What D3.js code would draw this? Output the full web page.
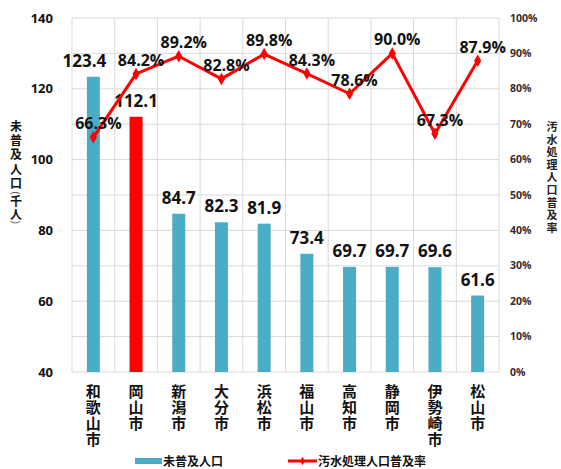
<!DOCTYPE html>
<html>
<head>
<meta charset="utf-8">
<script src="https://cdn.jsdelivr.net/npm/d3@7"></script>
<style>
  body { margin: 0; background: #fff; }
  text { font-family: "Open Sans", "Noto Sans CJK JP", sans-serif; }
  .cjk { font-family: "Noto Sans CJK JP", sans-serif; }
</style>
</head>
<body>
<svg id="chart" width="561" height="469"></svg>
<script>
// data
var cities = ['和歌山市', '岡山市', '新潟市', '大分市', '浜松市', '福山市', '高知市', '静岡市', '伊勢崎市', '松山市'];
var unserved = [123.4, 112.1, 84.7, 82.3, 81.9, 73.4, 69.7, 69.7, 69.6, 61.6];
var rate = [66.3, 84.2, 89.2, 82.8, 89.8, 84.3, 78.6, 90.0, 67.3, 87.9];
var leftTicks = [40, 60, 80, 100, 120, 140];
var rightTicks = [0, 10, 20, 30, 40, 50, 60, 70, 80, 90, 100];
var highlight = '岡山市';

var svg = d3.select('#chart');

// plot area (window.top is taken, so own names)
var plotLeft = 72, plotRight = 499, plotTop = 18, plotBottom = 372;

var x = d3.scaleBand().domain(cities).range([plotLeft, plotRight]).padding(0);
var yL = d3.scaleLinear().domain([40, 140]).range([plotBottom, plotTop]);
var yR = d3.scaleLinear().domain([0, 100]).range([plotBottom, plotTop]);

function cx(c) { return x(c) + x.bandwidth() / 2; }

// grid - horizontal every 10%
svg.append('g').selectAll('line')
  .data(rightTicks)
  .enter().append('line')
  .attr('x1', plotLeft).attr('x2', plotRight)
  .attr('y1', function(d) { return yR(d); })
  .attr('y2', function(d) { return yR(d); })
  .attr('stroke', '#d9d9d9').attr('stroke-width', 1);

// grid - vertical at band edges
var edges = cities.map(function(c) { return x(c); }).concat([plotRight]);
svg.append('g').selectAll('line')
  .data(edges)
  .enter().append('line')
  .attr('x1', function(d) { return d; }).attr('x2', function(d) { return d; })
  .attr('y1', plotTop).attr('y2', plotBottom)
  .attr('stroke', '#d9d9d9').attr('stroke-width', 1);

// left axis labels
svg.append('g').selectAll('text')
  .data(leftTicks)
  .enter().append('text')
  .attr('x', 53)
  .attr('y', function(d) { return yL(d); })
  .attr('dy', '0.35em')
  .attr('text-anchor', 'end')
  .attr('font-size', 13)
  .attr('font-weight', 'bold')
  .attr('fill', '#111')
  .text(function(d) { return d; });

// right axis labels
svg.append('g').selectAll('text')
  .data(rightTicks)
  .enter().append('text')
  .attr('x', 510)
  .attr('y', function(d) { return yR(d); })
  .attr('dy', '0.35em')
  .attr('font-size', 10.5)
  .attr('font-weight', 'bold')
  .attr('fill', '#3a2a2a')
  .text(function(d) { return d + '%'; });

// vertical text: one character under the other
function vtext(g, str, px, y0, step, size, color) {
  g.selectAll(null)
    .data(Array.from(str))
    .enter().append('text')
    .attr('class', 'cjk')
    .attr('x', px)
    .attr('y', function(d, i) { return y0 + i * step; })
    .attr('text-anchor', 'middle')
    .attr('font-size', size)
    .attr('font-weight', 'bold')
    .attr('fill', color)
    .text(function(d) { return d; });
}

// turned bracket for the vertical title
function vparen(g, ch, px, py) {
  g.append('g')
    .attr('transform', 'translate(' + px + ',' + py + ') rotate(90)')
    .append('text')
    .attr('x', 0).attr('y', 0)
    .attr('dy', '0.32em')
    .attr('text-anchor', 'middle')
    .attr('font-size', 11)
    .attr('fill', '#555')
    .text(ch);
}

// axis titles
var lt = svg.append('g');
vtext(lt, '未普及人口', 16, 131, 14.2, 12, '#111');
vparen(lt, '(', 16, 193);
vtext(lt, '千人', 16, 206, 13, 12, '#111');
vparen(lt, ')', 16, 222);

var rt = svg.append('g');
vtext(rt, '汚水処理人口普及率', 552, 131, 12.6, 11, '#222');

// bars
svg.append('g').selectAll('rect')
  .data(cities)
  .enter().append('rect')
  .attr('x', function(d) { return cx(d) - 6.5; })
  .attr('width', 13)
  .attr('y', function(d, i) { return yL(unserved[i]); })
  .attr('height', function(d, i) { return yL(40) - yL(unserved[i]); })
  .attr('fill', function(d) { return d === highlight ? '#ff0000' : '#4bacc6'; });

// bar value labels (first one sits a bit to the left in the original)
var labelNudge = { '和歌山市': -9 };
svg.append('g').selectAll('text')
  .data(cities)
  .enter().append('text')
  .attr('x', function(d) { return cx(d) + (labelNudge[d] || 0); })
  .attr('y', function(d, i) { return yL(unserved[i]) - 10; })
  .attr('text-anchor', 'middle')
  .attr('font-size', 17)
  .attr('font-weight', 'bold')
  .attr('fill', '#111')
  .text(function(d, i) { return unserved[i].toFixed(1); });

// rate line
var line = d3.line()
  .x(function(d, i) { return cx(cities[i]); })
  .y(function(d) { return yR(d); });

svg.append('path')
  .datum(rate)
  .attr('d', line)
  .attr('fill', 'none')
  .attr('stroke', '#ff0000')
  .attr('stroke-width', 3)
  .attr('stroke-linejoin', 'round');

var diamond = d3.symbol().type(d3.symbolDiamond).size(45);
svg.append('g').selectAll('path')
  .data(rate)
  .enter().append('path')
  .attr('d', diamond)
  .attr('transform', function(d, i) {
    return 'translate(' + cx(cities[i]) + ',' + yR(d) + ')';
  })
  .attr('fill', '#ff0000');

// rate labels
svg.append('g').selectAll('text')
  .data(rate)
  .enter().append('text')
  .attr('x', function(d, i) { return cx(cities[i]) + 5; })
  .attr('y', function(d) { return yR(d) - 8; })
  .attr('text-anchor', 'middle')
  .attr('font-size', 16)
  .attr('font-weight', 'bold')
  .attr('fill', '#111')
  .text(function(d) { return d.toFixed(1) + '%'; });

// category labels, stacked vertically
cities.forEach(function(c) {
  vtext(svg.append('g'), c, cx(c), 397, 16, 15, '#111');
});

// legend
var lg = svg.append('g');
lg.append('rect').attr('x', 135).attr('y', 458).attr('width', 27).attr('height', 6).attr('fill', '#4bacc6');
lg.append('text').attr('class', 'cjk').attr('x', 163).attr('y', 465.5)
  .attr('font-size', 12).attr('font-weight', 'bold').attr('fill', '#111').text('未普及人口');
lg.append('line').attr('x1', 288).attr('x2', 317).attr('y1', 461).attr('y2', 461)
  .attr('stroke', '#ff0000').attr('stroke-width', 3);
lg.append('path').attr('d', d3.symbol().type(d3.symbolDiamond).size(20))
  .attr('transform', 'translate(302.5,461)').attr('fill', '#ff0000');
lg.append('text').attr('class', 'cjk').attr('x', 318).attr('y', 465.5)
  .attr('font-size', 12).attr('font-weight', 'bold').attr('fill', '#111').text('汚水処理人口普及率');
</script>
</body>
</html>
